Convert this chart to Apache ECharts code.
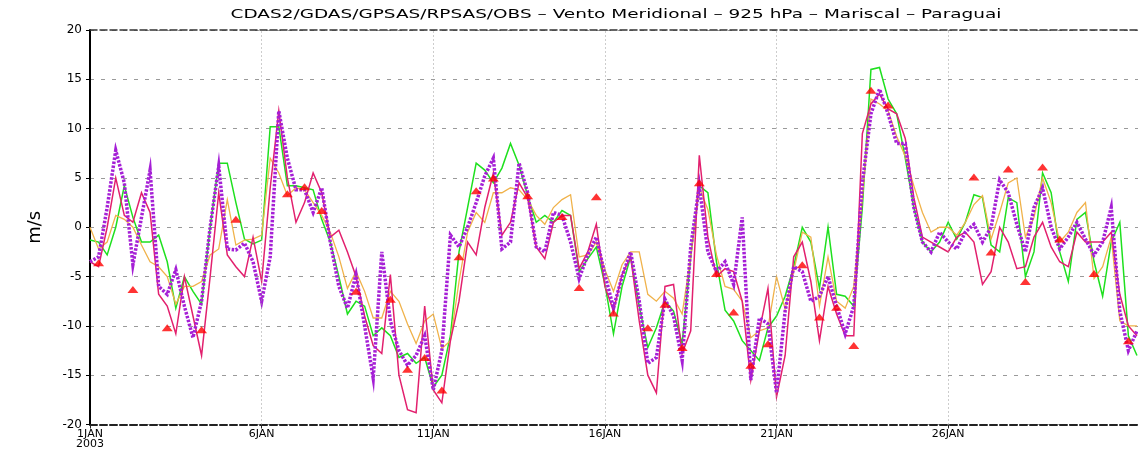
<!DOCTYPE html>
<html><head><meta charset="utf-8">
<script src="https://cdn.jsdelivr.net/npm/echarts@6/dist/echarts.min.js"></script>
<style>html,body{margin:0;padding:0;background:#fff}#c{width:1138px;height:450px}</style>
</head><body><div id="c"></div>
<script>
const titleText = 'CDAS2/GDAS/GPSAS/RPSAS/OBS – Vento Meridional – 925 hPa – Mariscal – Paraguai';
const yName = 'm/s';
const stepDays = 0.25; // 6-hourly values, day 0 = 1JAN 00Z
const dayTicks = [0, 5, 10, 15, 20, 25];
const dayTickLabels = ['1JAN\n2003', '6JAN', '11JAN', '16JAN', '21JAN', '26JAN'];

const cdas2 = [-1.3,-1.5,-2.8,0,4.2,1.0,-1.5,-1.5,-0.8,-3.5,-8.2,-5.0,-6.5,-7.8,0,6.5,6.5,2.5,-1.2,-1.7,
 -1.3,10.2,10.2,4.2,4.2,4.0,3.8,0.8,-1.5,-5.0,-8.8,-7.5,-8.0,-11.0,-10.2,-11.0,-13.2,-12.8,-13.8,-13.2,
 -16.2,-15.0,-11.0,-2.5,2.0,6.5,5.8,4.5,6.0,8.5,6.3,3.2,0.5,1.2,0.5,1.7,1.2,-4.5,-3.2,-2.0,
 -5.8,-10.8,-6.0,-3.0,-8.0,-12.2,-10.2,-7.5,-8.5,-11.8,-3.0,4.2,3.5,-3.5,-8.4,-9.5,-11.5,-12.5,-13.5,-10.2,
 -9.0,-7.0,-4.0,0,-1.5,-6.2,0,-6.8,-7.0,-8.0,2.0,16.0,16.2,13.0,11.5,7.0,2.0,-1.5,-2.5,-1.5,
 0.5,-1.2,0.5,3.3,3.0,-1.8,-2.5,3.0,2.5,-5.0,-2.5,5.5,3.5,-2.5,-5.5,0.8,1.5,-3.5,-7.0,-1.5,
 0.5,-11.0,-13.0];
const gdas = [0,-2.2,-1.5,1.2,0.8,0,-1.8,-3.5,-4.0,-5.0,-7.8,-6.0,-6.0,-5.5,-2.8,-2.2,2.8,-1.8,-1.3,-1.2,
 -0.8,7.0,5.5,3.2,4.0,3.8,2.5,1.2,-0.5,-3.0,-6.2,-4.5,-6.5,-9.2,-9.2,-6.5,-7.5,-9.8,-11.8,-9.5,
 -8.8,-12.3,-11.5,-5.5,-0.5,1.5,0.5,3.5,3.5,4.0,3.8,2.8,1.2,0.3,2.0,2.8,3.3,-3.0,-2.8,-1.5,
 -4.3,-6.5,-3.8,-2.5,-2.5,-6.8,-7.5,-6.5,-7.2,-8.8,-3.0,4.0,1.8,-2.8,-6.0,-6.3,-7.5,-11.2,-10.5,-10.2,
 -5.0,-8.3,-4.5,-0.5,-1.0,-8.0,-3.0,-7.5,-8.2,-6.0,3.0,13.0,12.5,11.8,9.2,7.2,4.2,1.5,-0.5,0,
 0,-0.8,0.5,2.3,3.2,-1.2,1.5,4.5,5.0,-1.0,1.0,5.0,2.5,-1.5,-0.5,1.5,2.5,-5.2,-4.0,-1.0,
 -9.5,-10.0,-10.0];
const gpsas = [-3.5,-4.0,0,5.0,1.2,0.5,3.5,1.5,-6.8,-8.0,-10.8,-5.0,-9.0,-13.0,-5.0,3.5,-2.8,-4.0,-5.0,-1.0,
 -5.5,4.0,11.8,5.0,0.5,2.5,5.5,3.5,-1.0,-0.3,-2.5,-5.0,-9.0,-12.0,-12.8,-4.8,-15.0,-18.5,-18.8,-8.0,
 -16.5,-17.8,-11.5,-7.5,-1.5,-2.8,2.0,5.5,-0.8,0.5,4.5,3.0,-2.0,-3.2,0.5,1.2,1.2,-4.2,-2.5,0.3,
 -6.0,-8.5,-4.8,-3.0,-9.5,-15.0,-16.8,-6.0,-5.8,-12.8,-10.5,7.3,-1.0,-5.0,-4.2,-4.5,-7.5,-15.5,-10.5,-6.2,
 -17.2,-13.0,-3.0,-1.5,-5.5,-11.5,-6.0,-8.8,-11.0,-11.0,9.5,12.5,13.5,12.0,11.5,9.0,3.0,-1.0,-1.5,-2.0,
 -2.5,-1.0,-0.5,-1.5,-5.8,-4.5,0,-1.5,-4.2,-4.0,-1.0,0.5,-2.0,-3.5,-4.0,-0.5,-1.5,-1.5,-1.5,-0.5,
 -6.8,-10.0,-11.0];
const rpsas = [-3.5,-3.0,2.0,7.8,4.5,-3.8,1.0,5.8,-6.0,-6.8,-4.3,-8.0,-11.2,-7.5,0,6.2,-2.2,-2.3,-1.6,-3.5,
 -7.5,-3.0,11.8,7.0,3.8,3.8,1.5,4.0,-1.5,-6.0,-8.2,-4.8,-10.0,-15.3,-2.5,-9.5,-12.5,-14.0,-13.0,-11.0,
 -16.5,-12.5,-0.8,-2.0,0,2.5,5.2,7.0,-2.2,-1.5,6.5,3.5,-2.0,-2.5,1.5,1.2,-1.5,-5.2,-2.8,-1.0,
 -4.8,-8.2,-5.0,-2.5,-7.5,-13.8,-13.2,-7.3,-9.0,-13.5,-2.0,4.2,-2.5,-4.5,-3.5,-5.8,1.0,-15.5,-9.2,-9.8,
 -16.8,-8.5,-4.0,-4.5,-7.5,-7.0,-5.0,-8.0,-10.8,-8.0,4.5,11.5,14.0,11.5,8.5,8.5,2.0,-1.5,-2.5,-0.5,
 -1.5,-2.2,-0.5,0.3,-1.5,0,4.8,3.5,0.3,-2.5,2.0,4.0,0,-2.2,-1.0,0.5,-1.2,-2.8,-1.5,2.0,
 -8.5,-12.5,-10.5];
const obsIdx = [1,5,9,13,17,23,25,27,31,35,37,39,41,43,45,47,51,55,57,59,61,65,67,69,71,73,75,77,79,83,85,87,89,91,93,103,105,107,109,111,113,117,121];
const obsVal = [-3.6,-6.3,-10.2,-10.4,0.8,3.4,4.1,1.7,-6.5,-7.3,-14.4,-13.2,-16.5,-3.0,3.7,5.0,3.2,1.1,-6.1,3.1,-8.7,-10.2,-7.8,-12.2,4.5,-4.7,-8.6,-14.0,-11.8,-3.8,-9.1,-8.1,-12.0,13.9,12.4,5.1,-2.5,5.9,-5.5,6.1,-1.2,-4.7,-11.5];

const toXY = arr => arr.map((v, i) => [i * stepDays, v]);
const FONT = 'DejaVu Sans';

const chart = echarts.init(document.getElementById('c'), null, {renderer: 'canvas'});
const lineSeries = (name, arr, color, width, type) => ({
  name, type: 'line', data: toXY(arr), showSymbol: false, symbol: 'none',
  lineStyle: {color, width, type: type || 'solid', cap: 'butt', join: 'miter'},
  animation: false, clip: true
});

chart.setOption({
  backgroundColor: '#ffffff',
  animation: false,
  graphic: [{
    type: 'text', x: 616, y: 15, scaleX: 1.42, scaleY: 1, originX: 0, originY: 0,
    style: {text: titleText, font: '13px "DejaVu Sans"', fill: '#000', textAlign: 'center', textVerticalAlign: 'middle'}
  }],
  grid: {left: 90, right: 0, top: 30, bottom: 20, show: false},
  xAxis: [{
    type: 'value', min: 0, max: 30.53,
    axisLine: {show: true, onZero: false, lineStyle: {color: '#222', width: 2, type: [7, 3]}},
    axisTick: {show: true, customValues: dayTicks, length: 4, lineStyle: {color: '#222'}},
    axisLabel: {
      customValues: dayTicks, color: '#000', fontFamily: FONT, fontSize: 11, margin: 5, lineHeight: 10,
      formatter: v => dayTickLabels[dayTicks.indexOf(Math.round(v))] || ''
    },
    splitLine: {show: false}
  }, {
    type: 'value', min: 0, max: 30.53, position: 'top',
    axisLine: {show: true, onZero: false, lineStyle: {color: '#333', width: 1.5, type: [7, 3]}},
    axisTick: {show: false}, axisLabel: {show: false}, splitLine: {show: false}
  }],
  yAxis: {
    type: 'value', min: -20, max: 20, interval: 5,
    name: yName, nameLocation: 'middle', nameGap: 46, nameRotate: 90,
    nameTextStyle: {color: '#000', fontFamily: FONT, fontSize: 18},
    axisLine: {show: true, onZero: false, lineStyle: {color: '#000', width: 2}},
    axisTick: {show: true, length: 4, lineStyle: {color: '#000'}},
    axisLabel: {color: '#000', fontFamily: FONT, fontSize: 12, margin: 8},
    splitLine: {show: true, lineStyle: {color: '#9a9a9a', width: 1, type: [4, 7]}}
  },
  series: [
    {
      type: 'line', data: [], z: 1, silent: true,
      markLine: {
        silent: true, symbol: 'none', label: {show: false}, animation: false,
        lineStyle: {color: '#9a9a9a', width: 1, type: [1, 3]},
        data: dayTicks.slice(1).map(d => ({xAxis: d}))
      }
    },
    lineSeries('CDAS2', cdas2, '#1ee01e', 1.5),
    lineSeries('GDAS', gdas, '#f0b24a', 1.3),
    lineSeries('GPSAS', gpsas, '#e2206e', 1.5),
    lineSeries('RPSAS', rpsas, '#a51fd6', 3.5, [2.5, 1.5]),
    {
      name: 'OBS', type: 'scatter', z: 5,
      data: obsIdx.map((i, k) => [i * stepDays, obsVal[k]]),
      symbol: 'triangle', symbolSize: [11, 7],
      itemStyle: {color: '#ff0000'}
    }
  ]
});
</script>
</body></html>
